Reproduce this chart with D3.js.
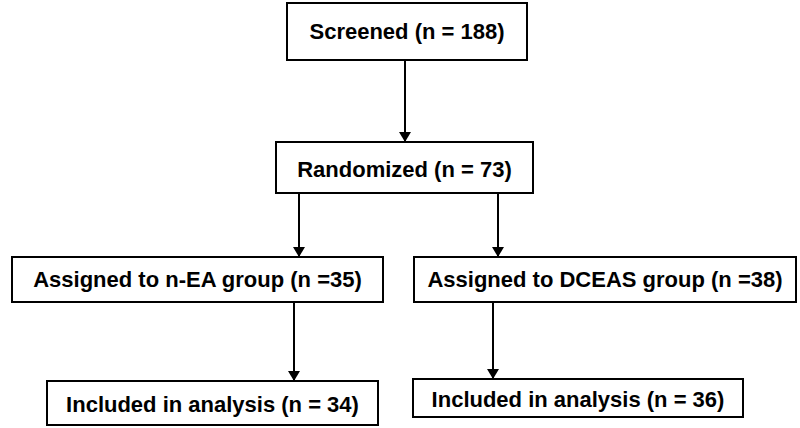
<!DOCTYPE html>
<html lang="en">
<head>
<meta charset="utf-8">
<title>Flow</title>
<script src="https://cdn.jsdelivr.net/npm/d3@7"></script>
<style>
  body { margin: 0; background: #fff; }
  text { font-family: "Liberation Sans", Arial, sans-serif; font-weight: bold; }
</style>
</head>
<body>
<div id="chart"></div>
<script>
// data
var stages = ["Screened", "Randomized", "Assigned to n-EA group", "Assigned to DCEAS group", "Included in analysis", "Included in analysis"];
var counts = [188, 73, 35, 38, 34, 36];
var countFmt = ["n = ", "n = ", "n =", "n =", "n = ", "n = "];
var links = [[0, 1], [1, 2], [1, 3], [2, 4], [3, 5]];

// layout (box x0, y0, x1, y1, baseline)
var boxes = [
  [287, 3, 527, 60, 39],
  [276, 142, 533, 193, 177],
  [12, 257, 383, 302, 287],
  [414, 257, 796, 302, 287],
  [47, 381, 378, 425, 412],
  [413, 379, 743, 417, 407]
];
// arrow x positions, start y, end y
var arrows = [
  [405, 60, 142],
  [299, 193, 257],
  [498, 193, 257],
  [294, 302, 381],
  [493, 302, 379]
];

var svg = d3.select("#chart").append("svg")
  .attr("width", 800)
  .attr("height", 428);

svg.append("defs").append("marker")
  .attr("id", "head")
  .attr("viewBox", "0 0 10 12")
  .attr("refX", 10).attr("refY", 6)
  .attr("markerWidth", 12).attr("markerHeight", 12)
  .attr("markerUnits", "userSpaceOnUse")
  .attr("orient", "auto")
  .append("path")
  .attr("d", "M0,0 L10,6 L0,12 Z")
  .attr("fill", "#000");

svg.selectAll("line.arrow")
  .data(links)
  .enter().append("line")
  .attr("class", "arrow")
  .attr("x1", function(d, i) { return arrows[i][0]; })
  .attr("x2", function(d, i) { return arrows[i][0]; })
  .attr("y1", function(d, i) { return arrows[i][1]; })
  .attr("y2", function(d, i) { return arrows[i][2]; })
  .attr("stroke", "#000")
  .attr("stroke-width", 2)
  .attr("marker-end", "url(#head)");

var g = svg.selectAll("g.node")
  .data(stages)
  .enter().append("g")
  .attr("class", "node");

g.append("rect")
  .attr("x", function(d, i) { return boxes[i][0]; })
  .attr("y", function(d, i) { return boxes[i][1]; })
  .attr("width", function(d, i) { return boxes[i][2] - boxes[i][0]; })
  .attr("height", function(d, i) { return boxes[i][3] - boxes[i][1]; })
  .attr("fill", "#fff")
  .attr("stroke", "#000")
  .attr("stroke-width", 2);

g.append("text")
  .attr("x", function(d, i) { return (boxes[i][0] + boxes[i][2]) / 2; })
  .attr("y", function(d, i) { return boxes[i][4]; })
  .attr("text-anchor", "middle")
  .attr("font-size", 22)
  .text(function(d, i) { return d + " (" + countFmt[i] + counts[i] + ")"; });
</script>
</body>
</html>
